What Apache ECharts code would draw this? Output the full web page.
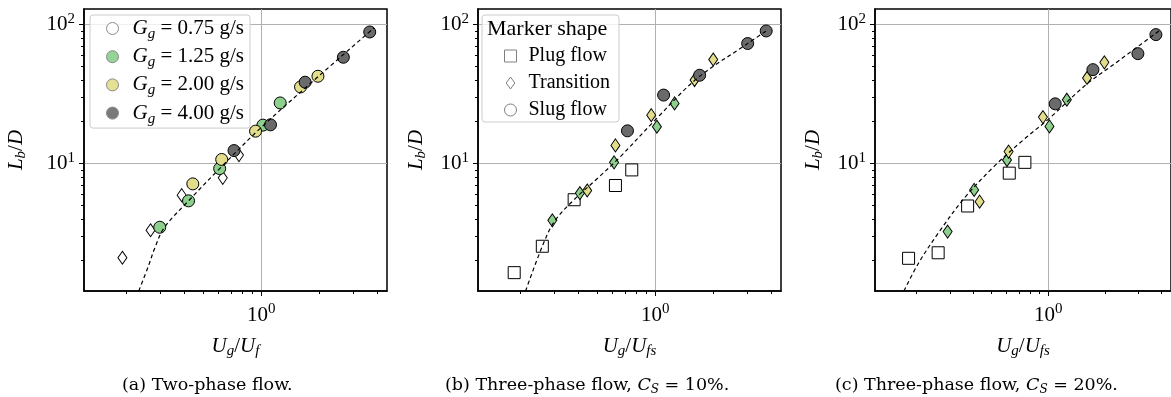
<!DOCTYPE html>
<html>
<head>
<meta charset="utf-8">
<script src="https://cdn.jsdelivr.net/npm/echarts@6.0.0/dist/echarts.min.js"></script>
<style>
html,body{margin:0;padding:0;background:#fff;}
#chart{width:1171px;height:397px;}
</style>
</head>
<body>
<div id="chart"></div>
<script>
// ---------- axis ranges & ticks ----------
const X_MIN = 0.12, X_MAX = 4.5;
const Y_MIN = 1.21, Y_MAX = 129.5;
const xMajorTicks = [1];
const xMinorTicks = [0.2, 0.3, 0.4, 0.5, 0.6, 0.7, 0.8, 0.9, 2, 3, 4];
const yMajorTicks = [10, 100];
const yMinorTicks = [2, 3, 4, 5, 6, 7, 8, 9, 20, 30, 40, 50, 60, 70, 80, 90];

// ---------- panel (a): two-phase flow ----------
const aX075 = [0.190, 0.266, 0.386, 0.631, 0.766];
const aY075 = [2.10, 3.31, 5.92, 7.89, 11.5];
const aX125 = [0.297, 0.419, 0.608, 1.02, 1.254];
const aY125 = [3.48, 5.39, 9.2, 18.9, 27.3];
const aX200 = [0.441, 0.623, 0.934, 1.60, 1.97];
const aY200 = [7.14, 10.7, 17.1, 35.6, 42.5];
const aX400 = [0.722, 1.117, 1.69, 2.67, 3.66];
const aY400 = [12.4, 19.0, 38.5, 58.2, 88.5];
const aFitX = [0.231, 0.259, 0.280, 0.313, 0.419, 0.608, 1.0, 1.97, 3.85];
const aFitY = [1.21, 1.82, 2.47, 3.45, 5.39, 9.2, 18.2, 42.1, 94.6];

// ---------- panel (b): three-phase, Cs = 10% ----------
const bPlugX = [0.185, 0.259, 0.379, 0.621, 0.755];
const bPlugY = [1.64, 2.54, 5.49, 6.95, 9.0];
const bTrans125X = [0.292, 0.406, 0.611, 1.02, 1.26];
const bTrans125Y = [3.9, 6.13, 10.2, 18.4, 27.1];
const bTrans200X = [0.443, 0.621, 0.953, 1.60, 2.0];
const bTrans200Y = [6.4, 13.5, 22.3, 39.9, 56.1];
const bSlugX = [0.717, 1.105, 1.70, 3.02, 3.77];
const bSlugY = [17.2, 31.1, 43.2, 73.1, 90.0];
const bFitX = [0.212, 0.259, 0.300, 0.379, 0.50, 0.65, 1.0, 1.65, 3.02, 3.77];
const bFitY = [1.21, 2.54, 3.85, 5.5, 7.8, 11.0, 20.6, 41.0, 73.0, 90.0];

// ---------- panel (c): three-phase, Cs = 20% ----------
const cPlugX = [0.181, 0.260, 0.373, 0.621, 0.752];
const cPlugY = [2.08, 2.28, 4.95, 8.53, 10.2];
const cTrans125X = [0.292, 0.404, 0.604, 1.016, 1.257];
const cTrans125Y = [3.24, 6.46, 10.6, 18.5, 28.8];
const cTrans200X = [0.432, 0.616, 0.938, 1.61, 1.99];
const cTrans200Y = [5.32, 12.2, 21.6, 41.3, 53.5];
const cSlugX = [1.09, 1.73, 3.0, 3.74];
const cSlugY = [26.9, 47.4, 61.8, 84.7];
const cFitX = [0.171, 0.204, 0.26, 0.358, 0.514, 0.738, 1.0, 1.61, 2.18, 3.97];
const cFitY = [1.21, 1.91, 3.15, 5.63, 9.5, 14.8, 20.8, 37.5, 50.5, 92.0];

// ---------- texts ----------
const captions = ['(a) Two-phase flow.', '(b) Three-phase flow, ', '(c) Three-phase flow, '];
const captionTail = ['', ' = 10%.', ' = 20%.'];
const legendALabels = {a075: '0.75', a125: '1.25', a200: '2.00', a400: '4.00'};
const legendBLabels = ['Plug flow', 'Transition', 'Slug flow'];

// ---------- styles ----------
const SERIF = "'Liberation Serif','DejaVu Serif',serif";
const CAPF = "'DejaVu Serif',serif";
const C_WHITE = '#ffffff', C_GREEN = '#8dcf8d', C_YELLOW = '#e2dd8b', C_GRAY = '#6a6a6a';
const FS = 21;

function mathRich(fs) {
  return {
    i: {fontFamily: SERIF, fontStyle: 'italic', fontWeight: 'normal', fontSize: fs, lineHeight: 26, verticalAlign: 'middle', color: '#000'},
    li: {fontFamily: SERIF, fontStyle: 'italic', fontWeight: 'normal', fontSize: fs, lineHeight: 26, verticalAlign: 'middle', color: '#000', padding: [0, 0, 0, 9]},
    r: {fontFamily: SERIF, fontWeight: 'normal', fontSize: fs, lineHeight: 26, verticalAlign: 'middle', color: '#000'},
    s: {fontFamily: SERIF, fontStyle: 'italic', fontWeight: 'normal', fontSize: Math.round(fs * 0.7), lineHeight: 14, verticalAlign: 'bottom', color: '#000'},
    p: {fontFamily: SERIF, fontWeight: 'normal', fontSize: Math.round(fs * 0.7), lineHeight: 9, verticalAlign: 'top', color: '#000'}
  };
}
const RICH = mathRich(FS);

const panels = [
  {left: 84, yNameGap: 55, xName: '{i|U}{s|g}{r|/}{i|U}{s|f}'},
  {left: 478, yNameGap: 49, xName: '{i|U}{s|g}{r|/}{i|U}{s|fs}'},
  {left: 875, yNameGap: 49, xName: '{i|U}{s|g}{r|/}{i|U}{s|fs}'}
];
const GRID_W = 303, GRID_H = 282, GRID_TOP = 9;

const grid = [], xAxis = [], yAxis = [];
const tickLine = {color: '#000', width: 1};
const hiddenLine = {show: true, onZero: false, lineStyle: {color: 'rgba(0,0,0,0)', width: 1}};
panels.forEach((p, i) => {
  grid.push({left: p.left, top: GRID_TOP, width: GRID_W, height: GRID_H, show: true,
             borderColor: '#000', borderWidth: 1.5, backgroundColor: 'transparent', containLabel: false});
  // major x
  xAxis.push({type: 'log', logBase: 10, gridIndex: i, min: X_MIN, max: X_MAX, position: 'bottom',
    axisLine: {show: true, onZero: false, lineStyle: {color: '#000', width: 1.5}},
    axisTick: {show: true, length: 5, lineStyle: tickLine, customValues: xMajorTicks},
    axisLabel: {show: true, margin: 11, customValues: xMajorTicks,
      formatter: v => '{r|10}{p|' + Math.round(Math.log10(v)) + '}', rich: RICH},
    splitLine: {show: true, lineStyle: {color: '#b0b0b0', width: 1}},
    name: p.xName, nameLocation: 'middle', nameGap: 42, nameTextStyle: {rich: RICH}
  });
  // minor x
  xAxis.push({type: 'log', logBase: 10, gridIndex: i, min: X_MIN, max: X_MAX, position: 'bottom',
    axisLine: hiddenLine,
    axisTick: {show: true, length: 3, lineStyle: tickLine, customValues: xMinorTicks},
    axisLabel: {show: false}, splitLine: {show: false}
  });
  // major y
  yAxis.push({type: 'log', logBase: 10, gridIndex: i, min: Y_MIN, max: Y_MAX, position: 'left',
    axisLine: {show: true, onZero: false, lineStyle: {color: '#000', width: 1.5}},
    axisTick: {show: true, length: 5, lineStyle: tickLine, customValues: yMajorTicks},
    axisLabel: {show: true, margin: 9, customValues: yMajorTicks,
      formatter: v => '{r|10}{p|' + Math.round(Math.log10(v)) + '}', rich: RICH},
    splitLine: {show: true, lineStyle: {color: '#b0b0b0', width: 1}},
    name: '{i|L}{s|b}{r|/}{i|D}', nameLocation: 'middle', nameGap: p.yNameGap, nameRotate: 90,
    nameTextStyle: {rich: RICH}
  });
  // minor y
  yAxis.push({type: 'log', logBase: 10, gridIndex: i, min: Y_MIN, max: Y_MAX, position: 'left',
    axisLine: hiddenLine,
    axisTick: {show: true, length: 3, lineStyle: tickLine, customValues: yMinorTicks},
    axisLabel: {show: false}, splitLine: {show: false}
  });
});

function pts(xs, ys) { return xs.map((x, k) => [x, ys[k]]); }
const CIRCLE = {symbol: 'circle', symbolSize: 12};
const DIAM = {symbol: 'diamond', symbolSize: [9, 13]};
const SQUARE = {symbol: 'rect', symbolSize: 12};
function scat(name, panel, shape, color, xs, ys) {
  return Object.assign({name: name, type: 'scatter', xAxisIndex: panel * 2, yAxisIndex: panel * 2,
    data: pts(xs, ys), itemStyle: {color: color, borderColor: '#000', borderWidth: 1, opacity: 1},
    emphasis: {disabled: true}, z: 2}, shape);
}
function fit(name, panel, xs, ys) {
  return {name: name, type: 'line', xAxisIndex: panel * 2, yAxisIndex: panel * 2, data: pts(xs, ys),
    smooth: 0.35, symbol: 'none', showSymbol: false, silent: true, z: 5,
    lineStyle: {color: '#000', width: 1.2, type: [4, 3]}};
}

const series = [
  scat('a075', 0, DIAM, C_WHITE, aX075, aY075),
  scat('a125', 0, CIRCLE, C_GREEN, aX125, aY125),
  scat('a200', 0, CIRCLE, C_YELLOW, aX200, aY200),
  scat('a400', 0, CIRCLE, C_GRAY, aX400, aY400),
  fit('fitA', 0, aFitX, aFitY),

  scat('Plug flow', 1, SQUARE, C_WHITE, bPlugX, bPlugY),
  scat('Transition', 1, DIAM, C_GREEN, bTrans125X, bTrans125Y),
  scat('Transition', 1, DIAM, C_YELLOW, bTrans200X, bTrans200Y),
  scat('Slug flow', 1, CIRCLE, C_GRAY, bSlugX, bSlugY),
  fit('fitB', 1, bFitX, bFitY),

  scat('Plug flow', 2, SQUARE, C_WHITE, cPlugX, cPlugY),
  scat('Transition', 2, DIAM, C_GREEN, cTrans125X, cTrans125Y),
  scat('Transition', 2, DIAM, C_YELLOW, cTrans200X, cTrans200Y),
  scat('Slug flow', 2, CIRCLE, C_GRAY, cSlugX, cSlugY),
  fit('fitC', 2, cFitX, cFitY)
];

const legA = {
  show: true, orient: 'vertical', left: 90, top: 15, selectedMode: false,
  itemWidth: 12, itemHeight: 12, itemGap: 4.7, padding: [3, 6, 2, 16],
  backgroundColor: 'rgba(255,255,255,0.8)', borderColor: '#cccccc', borderWidth: 1, borderRadius: 3,
  data: [
    {name: 'a075', icon: 'circle', itemStyle: {color: C_WHITE, borderColor: '#8a8a8a', borderWidth: 1}},
    {name: 'a125', icon: 'circle', itemStyle: {color: '#96d396', borderColor: '#8a8a8a', borderWidth: 1}},
    {name: 'a200', icon: 'circle', itemStyle: {color: '#e4e094', borderColor: '#8a8a8a', borderWidth: 1}},
    {name: 'a400', icon: 'circle', itemStyle: {color: '#7a7a7a', borderColor: '#8a8a8a', borderWidth: 1}}
  ],
  formatter: n => '{li|G}{s|g}{r| = ' + legendALabels[n] + ' g/s}',
  textStyle: {rich: RICH}
};
const legB = {
  show: true, orient: 'vertical', left: 482, top: 15, selectedMode: false,
  itemWidth: 12, itemHeight: 12, itemGap: 7, padding: [31, 9, 2, 22],
  backgroundColor: 'rgba(255,255,255,0.8)', borderColor: '#cccccc', borderWidth: 1, borderRadius: 3,
  data: [
    {name: legendBLabels[0], icon: 'rect', itemStyle: {color: 'rgba(255,255,255,0)', borderColor: '#808080', borderWidth: 1}},
    {name: legendBLabels[1], icon: 'path://M0,-7L5,0L0,7L-5,0Z', itemStyle: {color: 'rgba(255,255,255,0)', borderColor: '#808080', borderWidth: 1}},
    {name: legendBLabels[2], icon: 'circle', itemStyle: {color: 'rgba(255,255,255,0)', borderColor: '#808080', borderWidth: 1}}
  ],
  formatter: n => '{t|' + n + '}',
  textStyle: {rich: {t: {fontFamily: SERIF, fontWeight: 'normal', fontSize: 20, lineHeight: 20, color: '#000', padding: [0, 0, 0, 7]}}}
};

const titles = [];
const capLeft = [122, 445, 835];
const capRich = {
  r: {fontFamily: CAPF, fontWeight: 'normal', fontSize: 17.5, lineHeight: 22, color: '#000', verticalAlign: 'middle'},
  ci: {fontFamily: CAPF, fontStyle: 'italic', fontWeight: 'normal', fontSize: 17.5, lineHeight: 22, color: '#000', verticalAlign: 'middle'},
  cs: {fontFamily: CAPF, fontStyle: 'italic', fontWeight: 'normal', fontSize: 12, lineHeight: 12, color: '#000', verticalAlign: 'bottom'}
};
captions.forEach((c, i) => {
  const txt = i === 0 ? '{r|' + c + '}' : '{r|' + c + '}{ci|C}{cs|S}{r|' + captionTail[i] + '}';
  titles.push({text: txt, left: capLeft[i], top: 374, padding: 0, textStyle: {fontWeight: 'normal', rich: capRich}});
});
titles.push({text: 'Marker shape', left: 487, top: 17, padding: 0, z: 10,
  textStyle: {fontFamily: SERIF, fontSize: 22, fontWeight: 'normal', color: '#000', lineHeight: 24}});

const chart = echarts.init(document.getElementById('chart'), null, {renderer: 'canvas'});
chart.setOption({
  animation: false,
  backgroundColor: '#ffffff',
  title: titles,
  legend: [legA, legB],
  grid: grid,
  xAxis: xAxis,
  yAxis: yAxis,
  series: series
});
</script>
</body>
</html>
